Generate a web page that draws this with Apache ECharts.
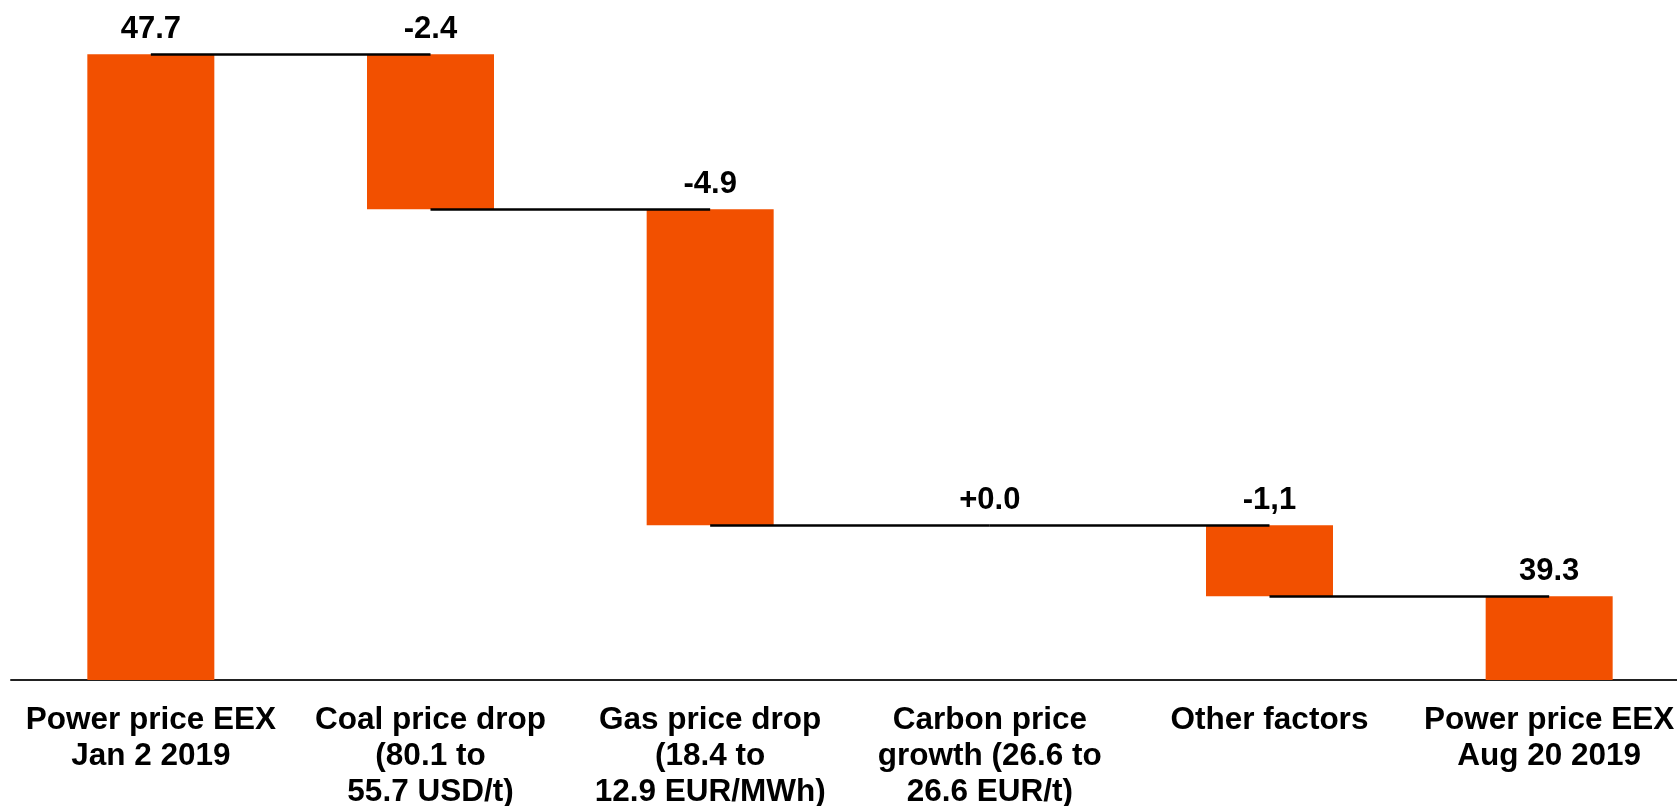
<!DOCTYPE html>
<html>
<head>
<meta charset="utf-8">
<title>Power price waterfall</title>
<script src="https://cdn.jsdelivr.net/npm/echarts@6/dist/echarts.min.js"></script>
<style>
  html, body { margin: 0; padding: 0; background: #fff; }
  #chart { width: 1677px; height: 806px; }
</style>
</head>
<body>
<div id="chart"></div>
<script>
// categories and values
const categories = [
  'Power price EEX\nJan 2 2019',
  'Coal price drop\n(80.1 to\n55.7 USD/t)',
  'Gas price drop\n(18.4 to\n12.9 EUR/MWh)',
  'Carbon price\ngrowth (26.6 to\n26.6 EUR/t)',
  'Other factors',
  'Power price EEX\nAug 20 2019'
];
const startValue = 47.7;
const deltas = [-2.4, -4.9, 0.0, -1.1];
const endValue = 39.3;
const valueLabels = ['47.7', '-2.4', '-4.9', '+0.0', '-1,1', '39.3'];

// build the invisible base + visible bar for the waterfall
const baseData = [0];
const barData = [startValue];
const levels = [startValue];
let running = startValue;
deltas.forEach(d => {
  const next = +(running + d).toFixed(2);
  baseData.push(Math.min(running, next));
  barData.push(Math.abs(d));
  running = next;
  levels.push(running);
});
baseData.push(0);
barData.push(endValue);

// connector lines from bar centre to next bar centre
const connectors = [];
for (let i = 0; i < levels.length; i++) {
  connectors.push([{ coord: [i, levels[i]] }, { coord: [i + 1, levels[i]] }]);
}

const chart = echarts.init(document.getElementById('chart'));
const font = 'Liberation Sans, Arial, sans-serif';

chart.setOption({
  animation: false,
  grid: {
    left: 11,
    right: -12,
    top: 35,
    bottom: 126,
    containLabel: false,
    outerBoundsMode: 'none'
  },
  xAxis: {
    type: 'category',
    data: categories,
    axisLine: { show: true, lineStyle: { color: '#222', width: 2 } },
    axisTick: { show: false },
    axisLabel: {
      interval: 0,
      margin: 22,
      color: '#000',
      fontFamily: font,
      fontWeight: 'bold',
      fontSize: 31.5,
      lineHeight: 36
    }
  },
  yAxis: {
    type: 'value',
    min: 38,
    max: 48,
    show: false,
    splitLine: { show: false }
  },
  series: [
    {
      type: 'bar',
      stack: 'wf',
      data: baseData,
      barWidth: 127,
      itemStyle: { color: 'transparent' },
      emphasis: { disabled: true },
      silent: true
    },
    {
      type: 'bar',
      stack: 'wf',
      data: barData,
      barWidth: 127,
      itemStyle: { color: '#f25000' },
      label: {
        show: true,
        position: 'top',
        distance: 9,
        color: '#000',
        fontFamily: font,
        fontWeight: 'bold',
        fontSize: 31,
        formatter: p => valueLabels[p.dataIndex]
      },
      markLine: {
        silent: true,
        symbol: 'none',
        label: { show: false },
        lineStyle: { color: '#000', width: 2.5, type: 'solid' },
        data: connectors.slice(0, 5)
      }
    }
  ]
});
</script>
</body>
</html>
